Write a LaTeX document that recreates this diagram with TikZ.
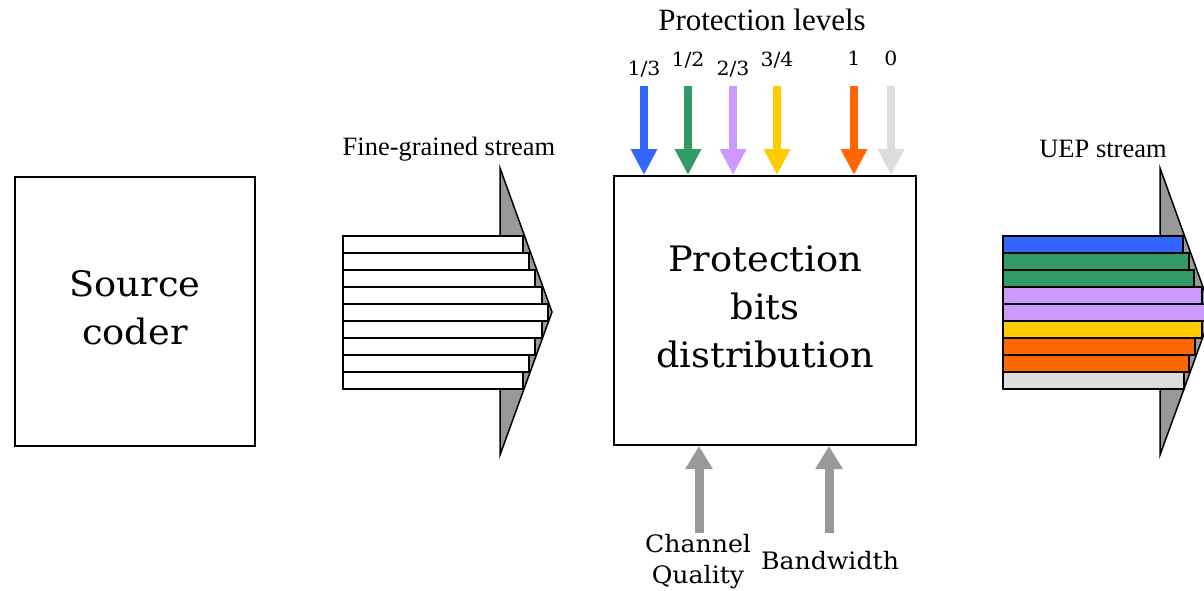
\documentclass[tikz,border=0pt]{standalone}
\usepackage{fontspec}
\setmainfont{Liberation Serif}
\newfontfamily\bk[FakeStretch=1.05]{DejaVu Serif}
\usetikzlibrary{arrows.meta}

\definecolor{lvblue}{HTML}{3366FF}
\definecolor{lvgreen}{HTML}{339966}
\definecolor{lvpurple}{HTML}{CC99FF}
\definecolor{lvyellow}{HTML}{FFCC00}
\definecolor{lvorange}{HTML}{FF6600}
\definecolor{lvgray}{HTML}{DDDDDD}
\definecolor{midgray}{HTML}{999999}

\begin{document}
\begin{tikzpicture}[x=1pt,y=-1pt,
  block/.style={draw=black, line width=2pt, fill=white, inner sep=0pt},
  blocktext/.style={align=center, font=\bk\fontsize{35}{48}\selectfont, inner sep=0pt},
  levelarrow/.style={line width=8pt, -{Triangle[length=26pt,width=25pt]}},
  inputarrow/.style={draw=midgray, line width=9pt, -{Triangle[length=23pt,width=26pt]}},
  levellabel/.style={font=\bk\fontsize{19.5}{20}\selectfont, inner sep=0pt},
  inputlabel/.style={font=\bk\fontsize{24}{31}\selectfont, align=center, inner sep=0pt},
  streamlabel/.style={font=\fontsize{26.5}{30}\selectfont, inner sep=0pt},
  wedge/.style={draw=black, line width=1.5pt, fill=midgray, line join=miter},
  strip/.style={draw=black, line width=1.6pt}
]
\useasboundingbox (0,0) rectangle (1204,591);
\clip (0,0) rectangle (1204,591);

% main blocks and their captions
\node[block, minimum width=240pt, minimum height=269pt] (src) at (135,311.5) {};
\node[blocktext] (srctext) at ([yshift=4pt]src.center) {Source\\coder};
\node[block, minimum width=302pt, minimum height=269pt] (pbd) at (765,310.5) {};
\node[blocktext] (pbdtext) at ([yshift=4pt]pbd.center) {Protection\\bits\\distribution};

% protection level inputs
\node[font=\fontsize{31}{31}\selectfont, inner sep=0pt] (levels) at (762,20) {Protection levels};
\foreach \name/\x/\y/\txt/\col in {a/644/69/{1/3}/lvblue, b/688/60/{1/2}/lvgreen,
    c/733/69/{2/3}/lvpurple, d/777/60/{3/4}/lvyellow,
    e/854/58/1/lvorange, f/891/58/0/lvgray}{
  \node[levellabel] (lbl\name) at (\x,\y) {\txt};
  \coordinate (top\name) at (\x,86);
  \draw[levelarrow, draw=\col, fill=\col] (top\name) -- (top\name |- pbd.north);
}

% channel inputs
\coordinate (chq) at (699,533);
\coordinate (bw) at (829,533);
\draw[inputarrow, fill=midgray] (chq) -- (chq |- pbd.south);
\draw[inputarrow, fill=midgray] (bw) -- (bw |- pbd.south);
\node[inputlabel] (chqlbl) at (698,562) {Channel\\Quality};
\node[inputlabel] (bwlbl) at (830,561) {Bandwidth};

% stream labels
\node[streamlabel] (fgs) at (449,149) {Fine-grained stream};
\node[streamlabel] (uep) at (1103,149) {UEP stream};

% fine-grained stream
\draw[wedge] (500,168) -- (552,312) -- (500,455) -- cycle;
\foreach \i/\r in {0/523,1/529,2/535,3/542,4/548,5/542,6/535,7/529,8/523}{
  \draw[strip, fill=white] (343,236+17*\i) rectangle (\r,253+17*\i);
}

% UEP stream
\begin{scope}[xshift=660pt]
\draw[wedge] (500,168) -- (552,312) -- (500,455) -- cycle;
\foreach \i/\r/\col in {0/523/lvblue,1/529/lvgreen,2/534/lvgreen,3/542/lvpurple,
    4/548/lvpurple,5/542/lvyellow,6/535/lvorange,7/529/lvorange,8/524/lvgray}{
  \draw[strip, fill=\col] (343,236+17*\i) rectangle (\r,253+17*\i);
}
\end{scope}
\end{tikzpicture}
\end{document}
